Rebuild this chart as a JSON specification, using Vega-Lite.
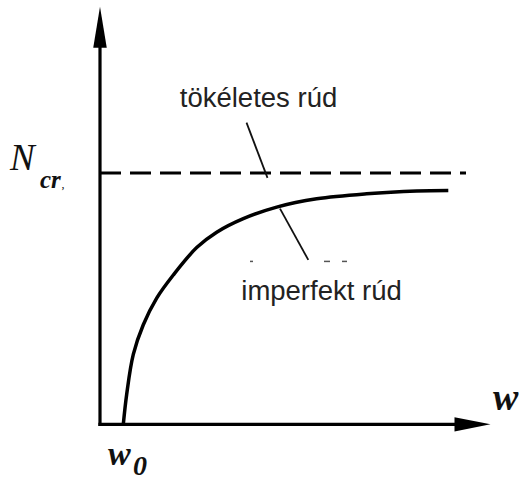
{
  "$schema": "https://vega.github.io/schema/vega-lite/v6.json",
  "width": 519,
  "height": 482,
  "autosize": {"type": "fit", "contains": "padding"},
  "padding": 0,
  "background": "white",
  "config": {"view": {"stroke": null}},
  "encoding": {
    "x": {"field": "w", "type": "quantitative", "scale": {"domain": [-1, 4.19], "nice": false, "zero": false}, "axis": null},
    "y": {"field": "N", "type": "quantitative", "scale": {"domain": [-0.2174, 1.6877], "nice": false, "zero": false}, "axis": null}
  },
  "layer": [
    {
      "data": {"values": [
        {"w": 0, "N": 0, "w2": 0, "N2": 1.5},
        {"w": 0, "N": 0, "w2": 3.56, "N2": 0}
      ]},
      "mark": {"type": "rule", "stroke": "#000", "strokeWidth": 3.2, "strokeCap": "square"},
      "encoding": {"x2": {"field": "w2"}, "y2": {"field": "N2"}}
    },
    {
      "data": {"values": [{"w": 0, "N": 1.579}]},
      "mark": {"type": "point", "shape": "M0,-1L0.33,1L-0.33,1Z", "size": 1681, "filled": true, "fill": "#000", "opacity": 1, "strokeWidth": 0}
    },
    {
      "data": {"values": [{"w": 3.725, "N": 0}]},
      "mark": {"type": "point", "shape": "M1,0L-1,-0.4L-1,0.4Z", "size": 1296, "filled": true, "fill": "#000", "opacity": 1, "strokeWidth": 0}
    },
    {
      "data": {"values": [{"w": 0, "N": 1, "w2": 3.66}]},
      "mark": {"type": "rule", "stroke": "#000", "strokeWidth": 3, "strokeDash": [21, 9]},
      "encoding": {"x2": {"field": "w2"}}
    },
    {
      "data": {"values": [
        {"w": 0.233, "N": 0},
        {"w": 0.267, "N": 0.12},
        {"w": 0.333, "N": 0.278},
        {"w": 0.433, "N": 0.396},
        {"w": 0.567, "N": 0.502},
        {"w": 0.733, "N": 0.594},
        {"w": 0.967, "N": 0.703},
        {"w": 1.167, "N": 0.764},
        {"w": 1.433, "N": 0.818},
        {"w": 1.767, "N": 0.864},
        {"w": 2.167, "N": 0.897},
        {"w": 2.667, "N": 0.917},
        {"w": 3.167, "N": 0.928},
        {"w": 3.483, "N": 0.93}
      ]},
      "mark": {"type": "line", "stroke": "#000", "strokeWidth": 3.5, "interpolate": "catmull-rom", "strokeCap": "butt"}
    },
    {
      "data": {"values": [
        {"w": 1.465, "N": 1.2, "w2": 1.675, "N2": 0.98},
        {"w": 1.8, "N": 0.858, "w2": 2.083, "N2": 0.654}
      ]},
      "mark": {"type": "rule", "stroke": "#111", "strokeWidth": 1.8},
      "encoding": {"x2": {"field": "w2"}, "y2": {"field": "N2"}}
    },
    {
      "data": {"values": [
        {"w": 1.5, "N": 0.648, "w2": 1.53},
        {"w": 2.24, "N": 0.648, "w2": 2.3},
        {"w": 2.42, "N": 0.648, "w2": 2.47}
      ]},
      "mark": {"type": "rule", "stroke": "#555", "strokeWidth": 1.5},
      "encoding": {"x2": {"field": "w2"}}
    },
    {
      "data": {"values": [
        {"w": 1.585, "N": 1.261, "label": "tökéletes rúd"},
        {"w": 2.215, "N": 0.495, "label": "imperfekt rúd"}
      ]},
      "mark": {"type": "text", "font": "Liberation Sans", "fontSize": 27.5, "align": "center", "baseline": "alphabetic", "fill": "#222"},
      "encoding": {"text": {"field": "label"}}
    },
    {
      "data": {"values": [{"w": -0.9, "N": 1.012, "label": "N"}]},
      "mark": {"type": "text", "font": "Liberation Serif", "fontStyle": "italic", "fontSize": 37, "align": "left", "baseline": "alphabetic", "fill": "#111"},
      "encoding": {"text": {"field": "label"}}
    },
    {
      "data": {"values": [{"w": -0.6, "N": 0.941, "label": "cr"}]},
      "mark": {"type": "text", "font": "Liberation Serif", "fontStyle": "italic", "fontWeight": "bold", "fontSize": 25, "align": "left", "baseline": "alphabetic", "fill": "#111"},
      "encoding": {"text": {"field": "label"}}
    },
    {
      "data": {"values": [{"w": -0.385, "N": 0.941, "label": ","}]},
      "mark": {"type": "text", "font": "Liberation Serif", "fontSize": 12, "align": "left", "baseline": "alphabetic", "fill": "#111"},
      "encoding": {"text": {"field": "label"}}
    },
    {
      "data": {"values": [{"w": 3.93, "N": 0.059, "label": "w"}]},
      "mark": {"type": "text", "font": "Liberation Serif", "fontStyle": "italic", "fontWeight": "bold", "fontSize": 38, "align": "left", "baseline": "alphabetic", "fill": "#111"},
      "encoding": {"text": {"field": "label"}}
    },
    {
      "data": {"values": [{"w": 0.08, "N": -0.162, "label": "w"}]},
      "mark": {"type": "text", "font": "Liberation Serif", "fontStyle": "italic", "fontWeight": "bold", "fontSize": 34, "align": "left", "baseline": "alphabetic", "fill": "#111"},
      "encoding": {"text": {"field": "label"}}
    },
    {
      "data": {"values": [{"w": 0.33, "N": -0.2016, "label": "0"}]},
      "mark": {"type": "text", "font": "Liberation Serif", "fontStyle": "italic", "fontWeight": "bold", "fontSize": 28, "align": "left", "baseline": "alphabetic", "fill": "#111"},
      "encoding": {"text": {"field": "label"}}
    }
  ]
}
